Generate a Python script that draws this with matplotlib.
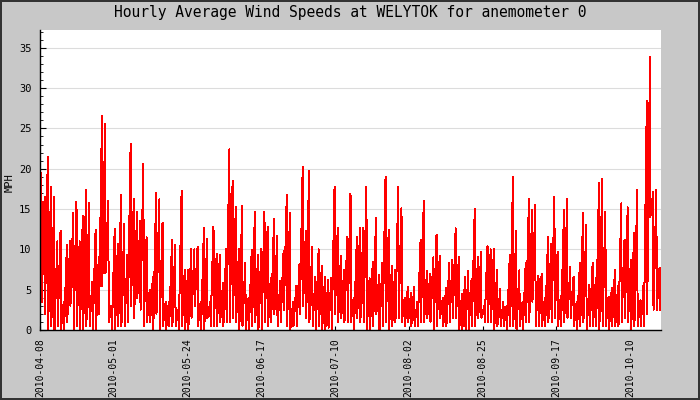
import numpy as np
import matplotlib
matplotlib.use('Agg')
import matplotlib.pyplot as plt

# daily high / low of the hourly wind speed (MPH), from 2010-04-08
hi = [19.5, 16.5, 21.4, 17.8, 16.5, 11, 12.3, 3.5, 10.5, 11,
      14.5, 15.9, 11, 14.2, 17.4, 15.7, 6, 12.4, 9, 26.6,
      25.5, 16, 3, 12.5, 10.7, 16.7, 13.2, 9.3, 23.1, 16.3,
      14.7, 13.5, 20.6, 11.5, 5, 6.6, 17, 16.2, 13.3, 3.5,
      3.5, 11.2, 10.5, 2.5, 17.3, 7.5, 7.5, 10, 10, 10.3,
      3.5, 12.6, 11.3, 3.5, 12.8, 9.4, 9.3, 5.8, 10.1, 22.4,
      18.5, 15.3, 10, 15.4, 8.3, 4, 9.9, 14.7, 9.3, 10,
      14.7, 12.8, 6.5, 13.8, 11.7, 6.1, 9.8, 16.7, 14.5, 3.5,
      5.5, 8.2, 20.2, 12.3, 19.7, 10.3, 6.6, 10, 8, 6.6,
      6.2, 6.5, 17.8, 12.6, 9.2, 7.5, 11.6, 16.9, 4, 11.5,
      12.7, 12.7, 17.8, 6.4, 8.5, 13.9, 6.8, 8.3, 19, 12.4,
      8, 7.5, 17.8, 15.1, 4, 5.4, 4.6, 5.4, 3.5, 11.2,
      16, 7.3, 7, 9, 11.8, 9.2, 4, 5.2, 8.3, 8.7,
      12.6, 9, 4.5, 6.6, 7.3, 6.3, 15, 9, 9.7, 3,
      10.4, 10, 10, 7.4, 5.1, 3.5, 3, 9.3, 19, 12.3,
      7.4, 3.5, 8.3, 16.3, 14.9, 15.5, 6.7, 7, 4, 11.5,
      10.7, 16.5, 9.7, 4.2, 14.9, 16.3, 7.8, 6.6, 3.5, 8.3,
      14.5, 13, 5.6, 8.3, 6.4, 18.2, 18.7, 14.7, 4.1, 5.2,
      7.4, 5.5, 15.7, 11.2, 15.2, 8.7, 12, 17.4, 3.7, 5.8,
      28.4, 33.8, 17.1, 17.4, 7.7]
lo = [3.5, 2, 0, 0.5, 0, 0.5, 0, 0, 1, 3,
      0, 0.5, 0, 0, 0.5, 0.5, 0, 0, 2, 5.5,
      7, 1, 0, 0, 0.5, 0.5, 0.5, 1, 3, 1.5,
      4, 2.5, 0.5, 1, 1, 0, 2, 0, 0.5, 0,
      0.5, 0.5, 0.5, 0, 0.5, 0, 0, 1.5, 3, 0.5,
      0, 0, 1.5, 0.5, 0.5, 0.5, 1, 0.5, 1, 1,
      1.5, 1, 0, 0.5, 0, 0, 0.5, 1, 0, 0,
      1, 0.5, 1, 2, 0.5, 1, 2.5, 0.5, 0, 0.5,
      0.5, 2, 3, 1.5, 1, 0.5, 0, 0.5, 0, 0,
      0.3, 0, 2, 1, 1.5, 1, 1, 1, 0, 1.5,
      1, 1, 0, 0, 0.5, 2, 0, 0.5, 1, 0,
      0.5, 1, 1.5, 1, 0.5, 1, 0.5, 0.5, 0.5, 1,
      1, 1.5, 1, 0, 0.5, 1.5, 0.5, 0.5, 1, 1.5,
      1.5, 0, 0, 0, 0, 0.5, 0.5, 1.5, 1.5, 1,
      1, 1, 0, 0.5, 0.5, 0.5, 0, 0.5, 0.5, 0,
      0.5, 0, 1, 1, 3.5, 0.5, 0.5, 0.5, 0.5, 1,
      1, 1.5, 0.5, 0.5, 1, 1.5, 1.5, 0.5, 0, 0.5,
      1, 0, 0.5, 0.5, 0.5, 0, 0.5, 0.5, 0, 0.5,
      0.5, 0.5, 1, 1.5, 1, 0, 0.5, 0.5, 0.5, 0.5,
      2, 14, 2.5, 2.5, 2.5]

tick_labels = ['2010-04-08', '2010-05-01', '2010-05-24', '2010-06-17', '2010-07-10',
               '2010-08-02', '2010-08-25', '2010-09-17', '2010-10-10']
tick_step = 23.15  # days between labels

# each day: quick drop from the high to the low, then a slow climb to the next high
days = np.arange(len(hi))
t = np.empty(2 * len(hi))
v = np.empty(2 * len(hi))
t[0::2] = days + 0.45
t[1::2] = days + 0.55
v[0::2] = hi
v[1::2] = lo

bg = '#c8c8c8'
plt.rcParams['font.family'] = 'DejaVu Sans Mono'

fig = plt.figure(figsize=(7, 4), dpi=100, facecolor=bg, edgecolor='#333333', linewidth=1.5)
ax = fig.add_axes([40/700, 70/400, 621/700, 300/400])
ax.set_facecolor('white')

ax.plot(t, v, color='red', lw=0.72, antialiased=False)

ax.set_xlim(0, 194.9)
ax.set_ylim(0, 37.2)
ax.set_yticks(np.arange(0, 36, 5))
ax.set_yticks(np.arange(0, 38, 1), minor=True)
ax.set_xticks(np.arange(len(tick_labels)) * tick_step)
ax.set_xticklabels(tick_labels, rotation=90, fontsize=7)
ax.tick_params(axis='y', which='major', direction='in', length=4, pad=6, labelsize=7.5)
ax.tick_params(axis='y', which='minor', direction='in', length=2.5)
ax.tick_params(axis='x', direction='in', length=3, pad=6)
ax.grid(axis='y', color='#dcdcdc', lw=0.8)
ax.set_axisbelow(True)

for s in ['top', 'right']:
    ax.spines[s].set_visible(False)
ax.spines['left'].set_linewidth(1)
ax.spines['bottom'].set_linewidth(1)

fig.text(10/700, 1 - 183/400, 'MPH', rotation=90, fontsize=7.5, ha='center', va='center')
fig.text(0.5, 1 - 13/400, 'Hourly Average Wind Speeds at WELYTOK for anemometer 0',
         fontsize=10.5, ha='center', va='center')

fig.savefig('out.png', dpi=100, facecolor=bg)
